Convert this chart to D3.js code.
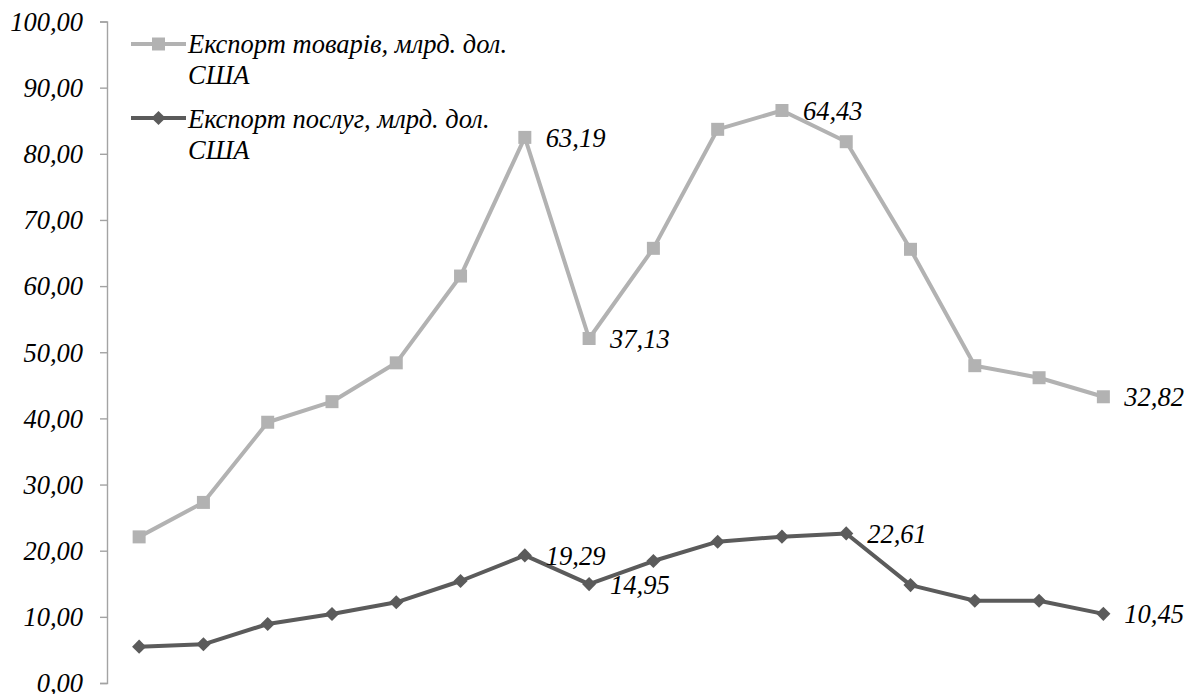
<!DOCTYPE html>
<html>
<head>
<meta charset="utf-8">
<script src="https://cdn.jsdelivr.net/npm/d3@7"></script>
<style>
  body { margin: 0; background: #fff; }
  text { font-family: "Liberation Serif", "Times New Roman", serif; font-style: italic; fill: #000; }
</style>
</head>
<body>
<svg id="chart" width="1200" height="694"></svg>
<script>
// Periods along the horizontal axis (not labelled on the chart)
const periods = d3.range(1, 17);
// Export of goods, bn USD (stacked on top of services)
const goods = [16.60, 21.45, 30.50, 32.10, 36.20, 46.10, 63.19, 37.13, 47.27, 62.34, 64.43, 59.22, 50.76, 35.53, 33.71, 32.82];
// Export of services, bn USD
const services = [5.49, 5.85, 8.92, 10.43, 12.20, 15.42, 19.29, 14.95, 18.44, 21.36, 22.12, 22.61, 14.80, 12.44, 12.44, 10.45];
const yTicks = [0, 10, 20, 30, 40, 50, 60, 70, 80, 90, 100];
// Periods whose points carry a value label
const goodsLabelled = [7, 8, 11, 16];
const servicesLabelled = [7, 8, 12, 16];
const seriesNames = {
  goods: ["Експорт товарів, млрд. дол.", "США"],
  services: ["Експорт послуг, млрд. дол.", "США"]
};
const colors = { goods: "#b2b2b2", services: "#5b5b5b" };
const FONT = 26.5;

const locale = d3.formatLocale({ decimal: ",", thousands: " ", grouping: [3], currency: ["", ""] });
const fmt = locale.format(".2f");

const svg = d3.select("#chart");

const x = d3.scaleBand().domain(periods).range([107, 1135.5]);
const cx = p => x(p) + x.bandwidth() / 2;
const y = d3.scaleLinear().domain([0, 100]).range([683, 21.5]);

// Stacked layout: services at the bottom, goods on top
const table = periods.map((p, i) => ({ period: p, services: services[i], goods: goods[i] }));
const stacked = d3.stack().keys(["services", "goods"])(table);
const layer = { services: stacked[0], goods: stacked[1] };

// Vertical axis
const yAxis = d3.axisLeft(y).tickValues(yTicks).tickSize(7).tickPadding(17).tickFormat(fmt);
const gy = svg.append("g").attr("transform", "translate(107,0)").call(yAxis)
  .attr("font-family", null).attr("font-size", null);
gy.select(".domain").attr("stroke", "#a3a3a3").attr("stroke-width", 1.4);
gy.selectAll(".tick line").attr("stroke", "#a3a3a3").attr("stroke-width", 1.4);
gy.selectAll(".tick text").attr("font-size", FONT).attr("dy", "0.33em").attr("fill", "#000");

const line = d3.line().x(d => cx(d.data.period)).y(d => y(d[1]));

const squareSym = d3.symbol(d3.symbolSquare, 169);
const diamondSym = d3.symbol(d3.symbolSquare, 100);

function drawSeries(key, symbolPath, rotate) {
  const g = svg.append("g");
  g.append("path").datum(layer[key])
    .attr("fill", "none").attr("stroke", colors[key]).attr("stroke-width", 4)
    .attr("stroke-linejoin", "round").attr("d", line);
  g.selectAll("path.mk").data(layer[key]).join("path").attr("class", "mk")
    .attr("d", symbolPath)
    .attr("fill", colors[key])
    .attr("transform", d => `translate(${cx(d.data.period)},${y(d[1])}) rotate(${rotate})`);
}

drawSeries("goods", squareSym, 0);
drawSeries("services", diamondSym, 45);

// Value labels to the right of selected points
function drawLabels(key, list) {
  svg.append("g").selectAll("text").data(layer[key].filter(d => list.includes(d.data.period))).join("text")
    .attr("x", d => cx(d.data.period) + 21)
    .attr("y", d => y(d[1]) + 9.5)
    .attr("font-size", FONT)
    .text(d => fmt(d.data[key]));
}
drawLabels("goods", goodsLabelled);
drawLabels("services", servicesLabelled);

// Legend
const legend = svg.append("g");
[["goods", squareSym, 0, 44, 53], ["services", diamondSym, 45, 118, 128]].forEach(([key, sym, rot, ly, by]) => {
  legend.append("line").attr("x1", 131).attr("x2", 186).attr("y1", ly).attr("y2", ly)
    .attr("stroke", colors[key]).attr("stroke-width", 4);
  legend.append("path").attr("d", sym).attr("fill", colors[key])
    .attr("transform", `translate(158.5,${ly}) rotate(${rot})`);
  const t = legend.append("text").attr("x", 188).attr("y", by).attr("font-size", FONT);
  seriesNames[key].forEach((s, i) => {
    t.append("tspan").attr("x", 188).attr("dy", i === 0 ? 0 : 30.5).text(s);
  });
});
</script>
</body>
</html>
